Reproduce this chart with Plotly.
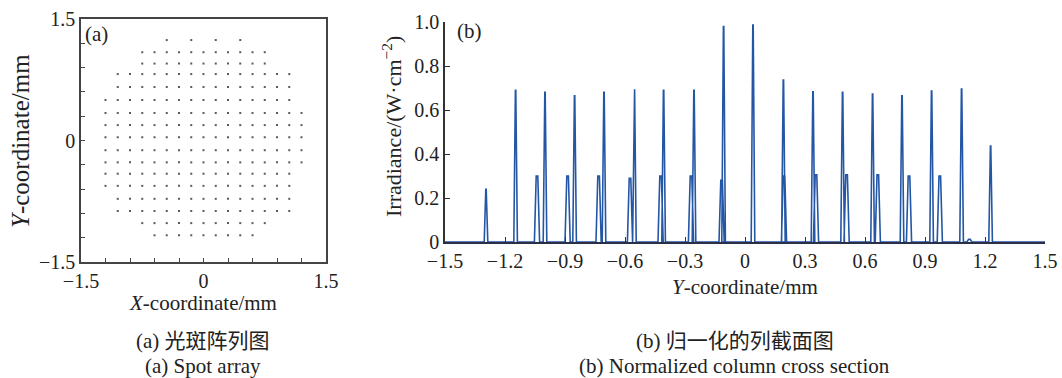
import plotly.graph_objects as go

W, H = 1062, 378
FONT = "Liberation Serif, Times New Roman, Noto Sans CJK SC, serif"
INK = "#222222"

# ---------------- panel (a): spot array data ----------------
spot_cols = [-1.2, -1.05, -0.9, -0.75, -0.6, -0.45, -0.3, -0.15, 0.0,
             0.15, 0.3, 0.45, 0.6, 0.75, 0.9, 1.05, 1.2]
spot_row_y = [1.24, 1.09, 0.95, 0.82, 0.66, 0.50, 0.34, 0.19, 0.04,
              -0.12, -0.27, -0.41, -0.56, -0.72, -0.87, -1.02, -1.17]
spot_row_lo = [-0.45, -0.75, -0.75, -1.05, -1.05, -1.2, -1.2, -1.2, -1.2,
               -1.2, -1.2, -1.2, -1.2, -1.05, -1.05, -0.75, -0.6]
spot_row_hi = [0.45, 0.75, 0.75, 1.05, 1.05, 1.05, 1.2, 1.2, 1.2,
               1.2, 1.2, 1.05, 1.05, 1.05, 1.05, 0.75, 0.6]
spot_row_step = [2, 1, 1, 1, 1, 1, 1, 1, 1, 1, 1, 1, 1, 1, 1, 1, 1]

# ---------------- panel (b): cross-section peaks ----------------
main_pos = [-1.295, -1.147, -1.0, -0.852, -0.705, -0.553, -0.407, -0.255, -0.107,
            0.040, 0.192, 0.340, 0.488, 0.638, 0.785, 0.933, 1.083, 1.228]
main_h = [0.24, 0.69, 0.68, 0.665, 0.68, 0.694, 0.69, 0.69, 0.979,
          0.986, 0.736, 0.683, 0.68, 0.673, 0.664, 0.686, 0.695, 0.436]
side_pos = [-1.04, -0.887, -0.732, -0.575, -0.422, -0.270, -0.117,
            0.195, 0.355, 0.508, 0.664, 0.820, 0.974, 1.122]
side_h = [0.30, 0.30, 0.30, 0.29, 0.30, 0.30, 0.28,
          0.30, 0.305, 0.305, 0.305, 0.30, 0.30, 0.012]

x_ticks = [-1.5, -1.2, -0.9, -0.6, -0.3, 0.0, 0.3, 0.6, 0.9, 1.2, 1.5]
x_ticktext_b = ["−1.5", "−1.2", "−0.9", "−0.6", "−0.3", "0", "0.3", "0.6", "0.9", "1.2", "1.5"]
x_ticktext_a = ["−1.5", "", "", "", "", "0", "", "", "", "", "1.5"]
y_ticks_b = [0, 0.2, 0.4, 0.6, 0.8, 1.0]
y_ticktext_b = ["0", "0.2", "0.4", "0.6", "0.8", "1.0"]

# ---------------- build spot coordinates ----------------
sx, sy = [], []
for yv, lo, hi, st in zip(spot_row_y, spot_row_lo, spot_row_hi, spot_row_step):
    idx = [i for i, c in enumerate(spot_cols) if lo - 1e-9 <= c <= hi + 1e-9]
    for i in idx[::st]:
        sx.append(spot_cols[i])
        sy.append(yv)

# ---------------- build peak polyline ----------------
MAIN_HW = 0.009
SIDE_HW = 0.013
shapes_list = []
for c, h in zip(main_pos, main_h):
    shapes_list.append((c, [(c - MAIN_HW, 0), (c - 0.001, h), (c + 0.001, h), (c + MAIN_HW, 0)]))
for c, h in zip(side_pos, side_h):
    shapes_list.append((c, [(c - SIDE_HW, 0), (c - 0.004, h), (c + 0.004, h), (c + SIDE_HW, 0)]))
shapes_list.sort(key=lambda t: t[0])
px_, py_ = [-1.5], [0.0]
for _, pts in shapes_list:
    for a, b in pts:
        px_.append(a)
        py_.append(b)
px_.append(1.5)
py_.append(0.0)

fig = go.Figure()

fig.add_trace(go.Scatter(
    x=sx, y=sy, mode="markers", xaxis="x", yaxis="y",
    marker=dict(symbol="square", size=2, color="#5a5a5a", line=dict(width=0)),
    showlegend=False, hoverinfo="skip"))

fig.add_trace(go.Scatter(
    x=px_, y=py_, mode="lines", xaxis="x2", yaxis="y2",
    line=dict(color="#2456a6", width=1.6),
    showlegend=False, hoverinfo="skip"))


def fx(p):
    return p / W


def fy(p):
    return 1 - p / H


tickfont = dict(family=FONT, size=20, color=INK)

common = dict(showgrid=False, zeroline=False, showline=True, automargin=False,
              tickmode="array", tickfont=tickfont, ticks="inside")

fig.update_layout(
    width=W, height=H, autosize=False,
    margin=dict(l=0, r=0, t=0, b=0),
    paper_bgcolor="white", plot_bgcolor="white",
    font=dict(family=FONT, color=INK),
    xaxis=dict(domain=[fx(81), fx(326)], range=[-1.5, 1.5], anchor="y", mirror=True,
               linecolor="#444444", linewidth=1.5,
               ticklen=4, tickwidth=1, tickcolor="#444444",
               tickvals=x_ticks, ticktext=x_ticktext_a, **common),
    yaxis=dict(domain=[fy(262), fy(19)], range=[-1.5, 1.5], anchor="x", mirror=True,
               linecolor="#444444", linewidth=1.5,
               ticklen=4, tickwidth=1, tickcolor="#444444",
               tickvals=x_ticks, ticktext=x_ticktext_a, **common),
    xaxis2=dict(domain=[fx(445), fx(1045)], range=[-1.5, 1.5], anchor="y2",
                linecolor="#2a2f45", linewidth=1.5,
                ticklen=5, tickwidth=1.2, tickcolor="#333333",
                tickvals=x_ticks, ticktext=x_ticktext_b, **common),
    yaxis2=dict(domain=[fy(242), fy(22)], range=[0, 1.0], anchor="x2",
                linecolor="#333333", linewidth=1.5,
                ticklen=5, tickwidth=1.2, tickcolor="#333333",
                tickvals=y_ticks_b, ticktext=y_ticktext_b, **common),
)

ann = []


def add_text(text, x, y, size=21, angle=0, xanchor="center", yanchor="middle"):
    ann.append(dict(text=text, x=fx(x), y=fy(y), xref="paper", yref="paper",
                    showarrow=False, textangle=angle, xanchor=xanchor, yanchor=yanchor,
                    font=dict(family=FONT, size=size, color=INK)))


add_text("(a)", 83, 34, xanchor="left")
add_text("(b)", 455, 31, xanchor="left")
add_text("<i>Y</i>-coordinate/mm", 20, 141, size=25, angle=-90)
add_text("<i>X</i>-coordinate/mm", 203, 303)
add_text("Irradiance/(W·cm<sup>−2</sup>)", 392, 127, size=22, angle=-90)
add_text("<i>Y</i>-coordinate/mm", 745, 287)
add_text("(a) 光斑阵列图", 203, 341)
add_text("(a) Spot array", 203, 366)
add_text("(b) 归一化的列截面图", 735, 341)
add_text("(b) Normalized column cross section", 734, 366)

fig.update_layout(annotations=ann)

fig.write_html("out.html")
